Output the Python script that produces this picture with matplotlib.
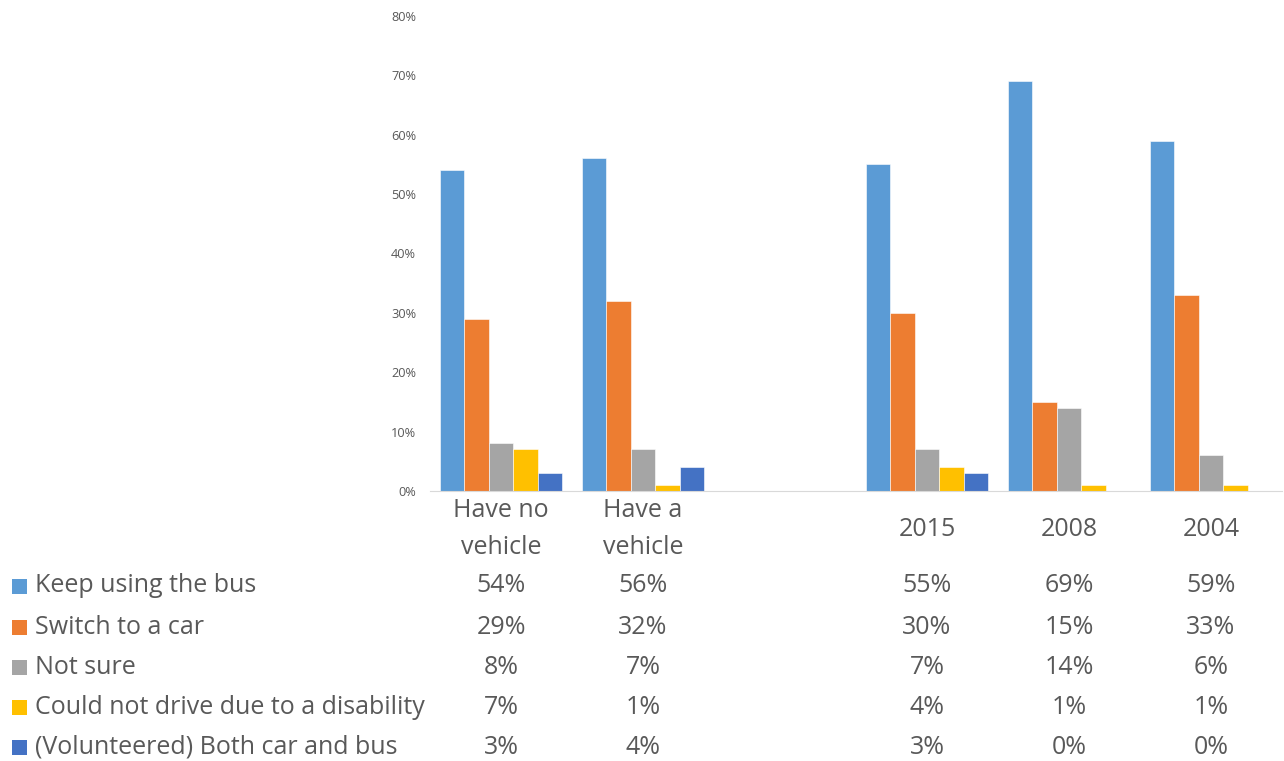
import numpy as np
import matplotlib
matplotlib.use("Agg")
from matplotlib import pyplot as plt
from matplotlib.patches import Rectangle
from matplotlib.transforms import blended_transform_factory

plt.rcParams["font.family"] = ["Open Sans", "DejaVu Sans"]

# categorias (a terceira é um espaço vazio entre os dois grupos)
categories = ["Have no\nvehicle", "Have a\nvehicle", "", "2015", "2008", "2004"]
series_names = [
    "Keep using the bus",
    "Switch to a car",
    "Not sure",
    "Could not drive due to a disability",
    "(Volunteered) Both car and bus",
]
keep_bus = [54, 56, None, 55, 69, 59]
switch_car = [29, 32, None, 30, 15, 33]
not_sure = [8, 7, None, 7, 14, 6]
disability = [7, 1, None, 4, 1, 1]
both = [3, 4, None, 3, 0, 0]
colors = ["#5B9BD5", "#ED7D31", "#A5A5A5", "#FFC000", "#4472C4"]

series = [keep_bus, switch_car, not_sure, disability, both]
text_color = "#595959"
big = 18

fig = plt.figure(figsize=(12.84, 7.61), dpi=100)
fig.patch.set_facecolor("white")
ax = fig.add_axes([430 / 1284, 1 - 491 / 761, 852 / 1284, 475 / 761])

x = np.arange(len(categories))
n = len(series)
bar_w = 0.86 / n
for i, (vals, col) in enumerate(zip(series, colors)):
    v = np.array([np.nan if a is None else a for a in vals], dtype=float)
    ax.bar(x - 0.43 + bar_w * (i + 0.5), v, width=bar_w, color=col,
           edgecolor="white", linewidth=0.4)

ax.set_xlim(-0.5, len(categories) - 0.5)
ax.set_ylim(0, 80)
ax.set_yticks(np.arange(0, 81, 10))
ax.set_yticklabels([f"{t}%" for t in range(0, 81, 10)], fontsize=9.2, color=text_color)
ax.set_xticks(x)
ax.set_xticklabels(categories, fontsize=big, color=text_color, linespacing=1.62,
                   va="center")
ax.tick_params(axis="both", length=0)
ax.tick_params(axis="y", pad=10)
ax.tick_params(axis="x", pad=27.5)
for side in ["top", "right", "left"]:
    ax.spines[side].set_visible(False)
ax.spines["bottom"].set_color("#D9D9D9")

# tabela de dados abaixo do gráfico
trans = blended_transform_factory(ax.transData, fig.transFigure)
row_y = [586, 627, 667, 707, 747]
for name, vals, col, ypix in zip(series_names, series, colors, row_y):
    yf = 1 - ypix / 761
    fig.patches.append(Rectangle((12 / 1284, yf - 7.5 / 761), 15 / 1284, 15 / 761,
                                 transform=fig.transFigure, facecolor=col,
                                 edgecolor="none"))
    fig.text(35 / 1284, yf, name, fontsize=big, color=text_color,
             ha="left", va="center")
    for xi, v in zip(x, vals):
        if v is None:
            continue
        fig.text(xi, yf, f"{v}%", transform=trans, fontsize=big,
                 color=text_color, ha="center", va="center")

fig.savefig("out.png", dpi=100, facecolor="white")
